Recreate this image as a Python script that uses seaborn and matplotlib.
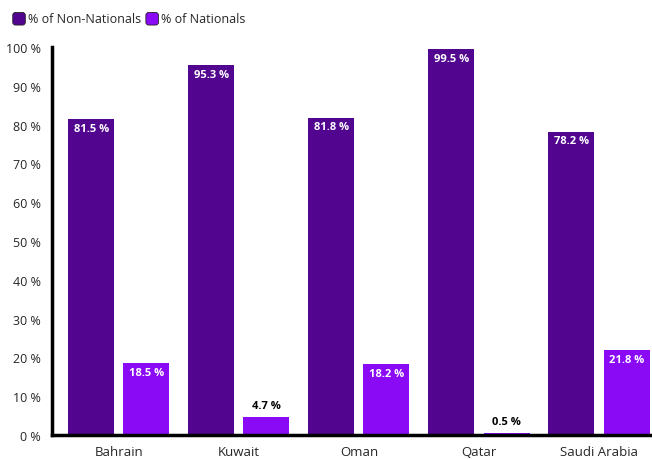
import matplotlib
matplotlib.use("Agg")
import matplotlib.pyplot as plt
import seaborn as sns
import pandas as pd
from matplotlib.patches import FancyBboxPatch
from matplotlib.legend_handler import HandlerPatch

countries = ["Bahrain", "Kuwait", "Oman", "Qatar", "Saudi Arabia"]
non_nationals = [81.5, 95.3, 81.8, 99.5, 78.2]
nationals = [18.5, 4.7, 18.2, 0.5, 21.8]
series = ["% of Non-Nationals", "% of Nationals"]
yticks = [0, 10, 20, 30, 40, 50, 60, 70, 80, 90, 100]

colors = ["#520690", "#8a0af6"]

df = pd.DataFrame({
    "country": countries * 2,
    "value": non_nationals + nationals,
    "series": [series[0]] * len(countries) + [series[1]] * len(countries),
})

sns.set_style("white")
plt.rcParams["font.family"] = ["Open Sans", "DejaVu Sans"]

fig = plt.figure(figsize=(6.52, 4.6), dpi=100)
ax = fig.add_axes([52 / 652, 24 / 460, 598 / 652, 388 / 460])

sns.barplot(data=df, x="country", y="value", hue="series", palette=colors,
            width=0.917, gap=0.164, ax=ax, saturation=1, legend=False,
            edgecolor="none", linewidth=0)

ax.set_ylim(0, 100)
ax.set_xlim(-0.558, 4.425)
ax.set_yticks(yticks)
ax.set_yticklabels([f"{t} %" for t in yticks], fontsize=9)
ax.tick_params(axis="x", labelsize=9.5, length=5, width=2.5, direction="out", pad=2)
ax.tick_params(axis="y", length=6, width=2.5, direction="out", pad=2)
ax.set_xlabel("")
ax.set_ylabel("")
for s in ["top", "right"]:
    ax.spines[s].set_visible(False)
for s in ["left", "bottom"]:
    ax.spines[s].set_linewidth(2.5)
    ax.spines[s].set_color("black")

# labels
for cont, vals in zip(ax.containers, [non_nationals, nationals]):
    for bar, v in zip(cont, vals):
        cx = bar.get_x() + bar.get_width() / 2
        h = bar.get_height()
        if h >= 10:
            ax.text(cx, h - 1.0, f"{v} %", ha="center", va="top", color="white",
                    fontsize=8, fontweight="bold")
        else:
            ax.text(cx, h + 1.5, f"{v} %", ha="center", va="bottom", color="black",
                    fontsize=8, fontweight="bold")

class RoundHandler(HandlerPatch):
    def create_artists(self, legend, orig_handle, xdescent, ydescent, width, height, fontsize, trans):
        p = FancyBboxPatch((-xdescent + 1, -ydescent - 1), height + 1, height + 1,
                           boxstyle="round,pad=0,rounding_size=2",
                           facecolor=orig_handle.get_facecolor(), edgecolor="#222222",
                           linewidth=0.6, transform=trans)
        return [p]

handles = [plt.Rectangle((0, 0), 1, 1, facecolor=c) for c in colors]
fig.legend(handles, series, loc="upper left", bbox_to_anchor=(0.004, 0.99),
           ncol=2, frameon=False, fontsize=9, handlelength=1.0, handleheight=1.0,
           handletextpad=0.3, columnspacing=0.3, borderaxespad=0.3,
           handler_map={plt.Rectangle: RoundHandler()})

fig.savefig("out.png", dpi=100)
